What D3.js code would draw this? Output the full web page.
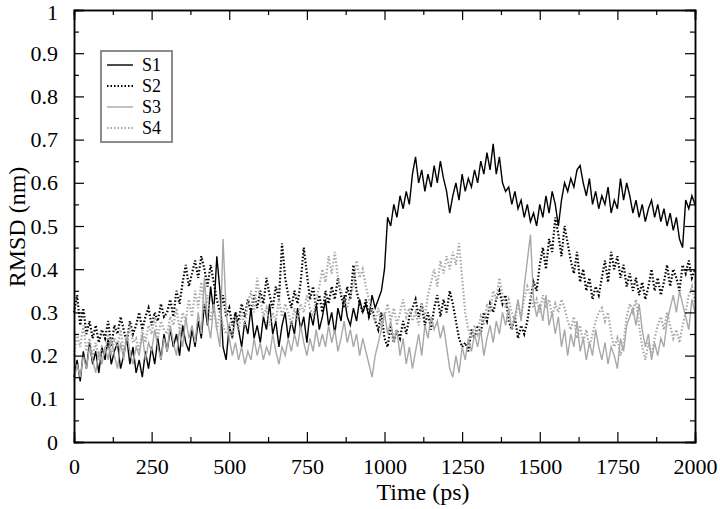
<!DOCTYPE html>
<html>
<head>
<meta charset="utf-8">
<script src="https://cdn.jsdelivr.net/npm/d3@7"></script>
<style>
  body { margin: 0; background: #fff; }
</style>
</head>
<body>
<div id="chart"></div>
<script>
// time axis, one sample every 10 ps
var timeStep = 10;

// RMSD (nm)
var s1 = [
  0.15,0.19,0.14,0.21,0.17,0.23,0.18,0.21,0.16,0.22,
  0.19,0.24,0.18,0.21,0.23,0.17,0.20,0.24,0.18,0.22,
  0.16,0.19,0.15,0.21,0.17,0.22,0.18,0.24,0.19,0.25,
  0.21,0.26,0.22,0.25,0.20,0.27,0.23,0.21,0.26,0.22,
  0.28,0.24,0.32,0.27,0.36,0.30,0.43,0.35,0.22,0.19,
  0.27,0.24,0.30,0.26,0.22,0.28,0.25,0.31,0.24,0.27,
  0.23,0.29,0.26,0.32,0.25,0.28,0.22,0.27,0.30,0.24,
  0.28,0.25,0.31,0.26,0.29,0.23,0.30,0.27,0.32,0.26,
  0.29,0.33,0.27,0.30,0.25,0.31,0.28,0.34,0.29,0.27,
  0.31,0.28,0.33,0.30,0.32,0.29,0.34,0.31,0.33,0.35,
  0.40,0.52,0.50,0.55,0.52,0.57,0.54,0.58,0.55,0.62,
  0.66,0.60,0.63,0.58,0.62,0.59,0.64,0.60,0.65,0.61,
  0.58,0.53,0.57,0.60,0.56,0.62,0.58,0.61,0.59,0.63,
  0.60,0.65,0.62,0.67,0.63,0.69,0.62,0.66,0.60,0.58,
  0.59,0.55,0.58,0.54,0.56,0.52,0.55,0.51,0.53,0.50,
  0.55,0.52,0.57,0.53,0.58,0.55,0.50,0.56,0.60,0.58,
  0.61,0.59,0.63,0.64,0.60,0.57,0.61,0.55,0.58,0.54,
  0.57,0.55,0.59,0.53,0.56,0.54,0.61,0.56,0.60,0.57,
  0.53,0.56,0.52,0.55,0.51,0.54,0.56,0.52,0.55,0.51,
  0.54,0.50,0.53,0.49,0.52,0.47,0.45,0.56,0.54,0.57,
  0.55
];
var s2 = [
  0.30,0.34,0.27,0.31,0.25,0.28,0.24,0.27,0.23,0.26,
  0.24,0.28,0.22,0.27,0.25,0.29,0.26,0.23,0.28,0.25,
  0.27,0.30,0.26,0.29,0.31,0.27,0.30,0.28,0.32,0.29,
  0.30,0.33,0.29,0.35,0.32,0.37,0.41,0.36,0.39,0.42,
  0.38,0.43,0.40,0.36,0.41,0.37,0.33,0.30,0.34,0.29,
  0.31,0.27,0.30,0.28,0.32,0.29,0.33,0.30,0.34,0.31,
  0.35,0.32,0.38,0.34,0.31,0.36,0.33,0.46,0.38,0.34,
  0.31,0.35,0.32,0.37,0.45,0.39,0.33,0.36,0.31,0.34,
  0.30,0.35,0.32,0.36,0.33,0.38,0.34,0.31,0.36,0.33,
  0.41,0.35,0.32,0.30,0.33,0.29,0.31,0.28,0.26,0.30,
  0.24,0.22,0.27,0.23,0.26,0.24,0.28,0.25,0.29,0.31,
  0.33,0.29,0.32,0.27,0.30,0.26,0.31,0.34,0.29,0.33,
  0.30,0.35,0.32,0.28,0.24,0.22,0.23,0.21,0.26,0.24,
  0.27,0.25,0.30,0.28,0.32,0.30,0.33,0.35,0.32,0.34,
  0.28,0.26,0.29,0.24,0.27,0.25,0.28,0.33,0.37,0.35,
  0.41,0.45,0.40,0.47,0.44,0.52,0.48,0.43,0.50,0.46,
  0.42,0.39,0.44,0.37,0.40,0.35,0.38,0.33,0.36,0.34,
  0.38,0.42,0.37,0.44,0.40,0.43,0.38,0.41,0.36,0.39,
  0.35,0.38,0.34,0.37,0.33,0.36,0.40,0.35,0.38,0.34,
  0.37,0.41,0.36,0.40,0.38,0.35,0.41,0.39,0.42,0.38,
  0.40
];
var s3 = [
  0.14,0.18,0.15,0.20,0.17,0.22,0.19,0.16,0.21,0.18,
  0.22,0.19,0.24,0.20,0.17,0.23,0.19,0.25,0.21,0.18,
  0.22,0.20,0.25,0.19,0.23,0.21,0.26,0.22,0.19,0.24,
  0.21,0.27,0.23,0.20,0.26,0.22,0.29,0.24,0.27,0.23,
  0.30,0.25,0.38,0.28,0.24,0.32,0.26,0.22,0.47,0.30,
  0.24,0.20,0.23,0.19,0.22,0.18,0.21,0.19,0.24,0.20,
  0.23,0.19,0.22,0.20,0.25,0.21,0.18,0.22,0.20,0.24,
  0.21,0.25,0.22,0.27,0.23,0.20,0.24,0.21,0.26,0.22,
  0.25,0.22,0.27,0.23,0.26,0.21,0.24,0.28,0.23,0.26,
  0.22,0.25,0.20,0.24,0.21,0.18,0.15,0.20,0.23,0.26,
  0.30,0.25,0.28,0.23,0.26,0.20,0.24,0.18,0.22,0.17,
  0.21,0.25,0.20,0.27,0.24,0.29,0.26,0.28,0.24,0.27,
  0.22,0.17,0.15,0.20,0.16,0.22,0.19,0.24,0.21,0.25,
  0.22,0.26,0.20,0.24,0.27,0.23,0.28,0.25,0.30,0.27,
  0.31,0.26,0.29,0.33,0.28,0.36,0.42,0.48,0.33,0.29,
  0.32,0.28,0.34,0.27,0.30,0.25,0.29,0.22,0.26,0.20,
  0.25,0.22,0.28,0.21,0.24,0.19,0.23,0.20,0.26,0.22,
  0.19,0.23,0.18,0.22,0.20,0.17,0.24,0.21,0.27,0.29,
  0.31,0.27,0.32,0.26,0.22,0.25,0.19,0.23,0.20,0.24,
  0.22,0.28,0.31,0.34,0.30,0.35,0.32,0.29,0.26,0.33,
  0.30
];
var s4 = [
  0.20,0.25,0.22,0.27,0.21,0.24,0.20,0.23,0.19,0.22,
  0.21,0.25,0.20,0.24,0.22,0.26,0.21,0.24,0.27,0.23,
  0.24,0.21,0.26,0.23,0.27,0.25,0.29,0.24,0.28,0.26,
  0.25,0.29,0.27,0.31,0.26,0.30,0.28,0.33,0.29,0.35,
  0.31,0.37,0.30,0.34,0.28,0.32,0.26,0.30,0.27,0.25,
  0.27,0.24,0.29,0.26,0.30,0.27,0.32,0.35,0.30,0.38,
  0.33,0.29,0.31,0.27,0.30,0.28,0.33,0.29,0.32,0.30,
  0.27,0.31,0.28,0.32,0.30,0.34,0.31,0.29,0.33,0.36,
  0.40,0.37,0.43,0.39,0.44,0.38,0.35,0.33,0.31,0.34,
  0.36,0.42,0.38,0.40,0.36,0.33,0.30,0.28,0.31,0.27,
  0.29,0.32,0.28,0.31,0.27,0.30,0.33,0.29,0.31,0.28,
  0.30,0.27,0.32,0.29,0.34,0.37,0.40,0.36,0.42,0.39,
  0.43,0.40,0.44,0.41,0.46,0.38,0.30,0.26,0.24,0.27,
  0.25,0.29,0.27,0.32,0.30,0.35,0.33,0.38,0.34,0.31,
  0.33,0.30,0.28,0.32,0.29,0.33,0.36,0.34,0.31,0.33,
  0.30,0.34,0.31,0.33,0.29,0.32,0.30,0.33,0.31,0.28,
  0.26,0.29,0.24,0.27,0.23,0.26,0.22,0.25,0.28,0.30,
  0.31,0.28,0.30,0.25,0.22,0.24,0.20,0.23,0.29,0.32,
  0.30,0.33,0.27,0.22,0.19,0.23,0.20,0.24,0.27,0.29,
  0.26,0.30,0.27,0.24,0.26,0.23,0.27,0.30,0.34,0.36,
  0.32
];

var seriesNames = ["S1", "S2", "S3", "S4"];
var xTicks = [0, 250, 500, 750, 1000, 1250, 1500, 1750, 2000];
var yTicks = [0, 0.1, 0.2, 0.3, 0.4, 0.5, 0.6, 0.7, 0.8, 0.9, 1];

var serif = "'Liberation Serif', 'Times New Roman', Times, 'DejaVu Serif', serif";

var width = 720, height = 509;
var margin = {left: 74, right: 25, top: 10, bottom: 67};

var svg = d3.select("#chart").append("svg")
    .attr("width", width)
    .attr("height", height);

var x = d3.scaleLinear().domain([0, 2000]).range([margin.left, width - margin.right]);
var y = d3.scaleLinear().domain([0, 1]).range([height - margin.bottom, margin.top]);

// series look, Grace-ish
var styles = [
    {data: s1, color: "#000", dash: null, w: 1.4},
    {data: s2, color: "#000", dash: "1.5,2", w: 2.2},
    {data: s3, color: "#a8a8a8", dash: null, w: 1.4},
    {data: s4, color: "#a8a8a8", dash: "1.5,2", w: 2.2}
];

var line = d3.line()
    .x(function (d, i) { return x(i * timeStep); })
    .y(function (d) { return y(d); });

var plot = svg.append("g");
styles.forEach(function (s) {
    plot.append("path")
        .datum(s.data)
        .attr("fill", "none")
        .attr("stroke", s.color)
        .attr("stroke-width", s.w)
        .attr("stroke-dasharray", s.dash)
        .attr("d", line);
});

// axes, ticks pointing inward on all four sides
var x0 = height - margin.bottom, y0 = margin.top;
var xMinor = d3.range(125, 2000, 250);
var yMinor = d3.range(0.05, 1, 0.1);

svg.append("g").attr("transform", "translate(0," + x0 + ")")
    .call(d3.axisBottom(x).tickValues(xTicks).tickSize(-10).tickPadding(16).tickFormat(d3.format("d")));
svg.append("g").attr("transform", "translate(0," + x0 + ")")
    .call(d3.axisBottom(x).tickValues(xMinor).tickSize(-5).tickFormat(""));
svg.append("g").attr("transform", "translate(0," + y0 + ")")
    .call(d3.axisTop(x).tickValues(xTicks).tickSize(-10).tickFormat(""));
svg.append("g").attr("transform", "translate(0," + y0 + ")")
    .call(d3.axisTop(x).tickValues(xMinor).tickSize(-5).tickFormat(""));

svg.append("g").attr("transform", "translate(" + margin.left + ",0)")
    .call(d3.axisLeft(y).tickValues(yTicks).tickSize(-10).tickPadding(16).tickFormat(d3.format("~g")));
svg.append("g").attr("transform", "translate(" + margin.left + ",0)")
    .call(d3.axisLeft(y).tickValues(yMinor).tickSize(-5).tickFormat(""));
svg.append("g").attr("transform", "translate(" + (width - margin.right) + ",0)")
    .call(d3.axisRight(y).tickValues(yTicks).tickSize(-10).tickFormat(""));
svg.append("g").attr("transform", "translate(" + (width - margin.right) + ",0)")
    .call(d3.axisRight(y).tickValues(yMinor).tickSize(-5).tickFormat(""));

svg.selectAll("g").attr("font-family", serif);
svg.selectAll(".domain").attr("stroke", "#000").attr("stroke-width", 1.5);
svg.selectAll(".tick line").attr("stroke", "#000").attr("stroke-width", 1.2);
svg.selectAll(".tick text")
    .attr("font-family", serif)
    .attr("font-size", 22)
    .attr("fill", "#000");
// keep the top "1" inside the page
svg.selectAll(".tick text").filter(function (d) { return d === 1; })
    .attr("dy", "0.45em");

// axis titles
svg.append("text")
    .attr("x", 423).attr("y", 500)
    .attr("text-anchor", "middle")
    .attr("font-family", serif)
    .attr("font-size", 24)
    .text("Time (ps)");
svg.append("text")
    .attr("transform", "translate(25,227) rotate(-90)")
    .attr("text-anchor", "middle")
    .attr("font-family", serif)
    .attr("font-size", 24)
    .text("RMSD (nm)");

// legend
var legend = svg.append("g");
legend.append("rect")
    .attr("x", 101).attr("y", 51)
    .attr("width", 71).attr("height", 91)
    .attr("fill", "#fff")
    .attr("stroke", "#8c8c8c")
    .attr("stroke-width", 2);
styles.forEach(function (s, i) {
    var ly = 65 + i * 21;
    legend.append("line")
        .attr("x1", 107).attr("x2", 133)
        .attr("y1", ly).attr("y2", ly)
        .attr("stroke", s.color)
        .attr("stroke-width", s.w)
        .attr("stroke-dasharray", s.dash);
    legend.append("text")
        .attr("x", 142).attr("y", ly + 6)
        .attr("font-family", serif)
        .attr("font-size", 18)
        .text(seriesNames[i]);
});
</script>
</body>
</html>
